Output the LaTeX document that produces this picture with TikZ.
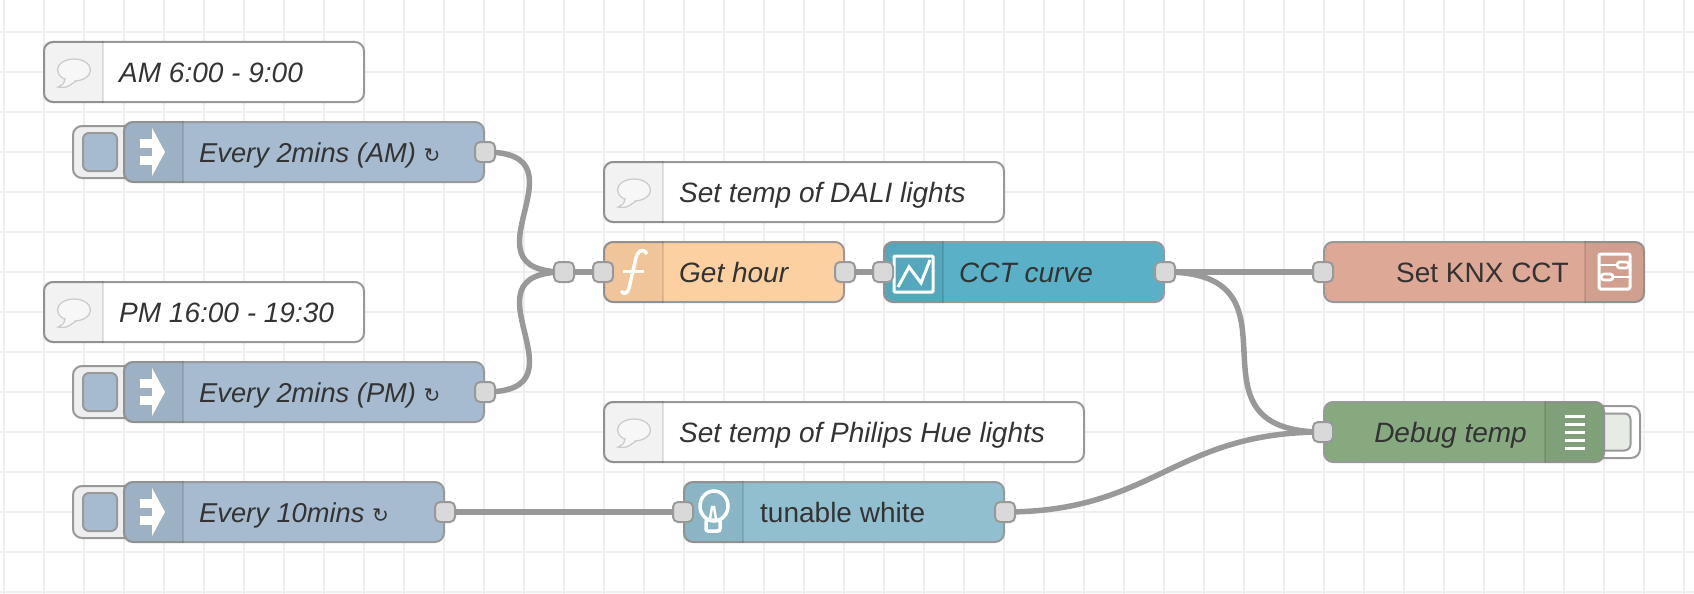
\documentclass[tikz,border=0pt]{standalone}
\usepackage{fontspec}
\setmainfont{Liberation Sans}
\newfontfamily\symfont{DejaVu Sans}
\usetikzlibrary{positioning, backgrounds}

\definecolor{wiregray}{HTML}{999999}
\definecolor{gridgray}{HTML}{EEEEEE}
\definecolor{portgray}{HTML}{D9D9D9}
\definecolor{textgray}{HTML}{333333}
\definecolor{injectblue}{HTML}{A6BBCF}
\definecolor{funcorange}{HTML}{FDD0A2}
\definecolor{curveteal}{HTML}{5AB1C7}
\definecolor{knxsalmon}{HTML}{DDA896}
\definecolor{debuggreen}{HTML}{87A980}
\definecolor{huecyan}{HTML}{92BFD0}
\definecolor{debugpale}{HTML}{E6EBE4}

\newcommand{\looptick}{{\upshape\symfont\fontsize{20}{20}\selectfont ↻}}

\tikzset{
    box/.style={draw=wiregray, line width=2pt, rounded corners=9pt, inner sep=0pt, minimum height=60pt},
    pad/.style={box, rounded corners=6pt, minimum width=34pt, minimum height=38pt},
    port/.style={draw=wiregray, line width=2pt, rounded corners=5pt, inner sep=0pt, fill=portgray, minimum size=20pt},
    wire/.style={draw=wiregray, line width=5.5pt},
    lbl/.style={inner sep=0pt, text=textgray, font=\fontsize{28}{32}\selectfont, text height=24pt, text depth=4pt},
    nameit/.style={lbl, font=\fontsize{28}{32}\selectfont\itshape},
    tickit/.style={lbl, font=\fontsize{27.3}{32}\selectfont\itshape},
    panel/.style={fill=black, fill opacity=0.05},
    divider/.style={draw=black, draw opacity=0.1, line width=2pt},
    glyph/.style={draw=white, line width=3pt},
    bubble/.pic={
        \draw[draw=black!20, fill=black!3, line width=1.3pt] (1,-2) ellipse [x radius=16.5pt, y radius=11pt];
        \draw[draw=black!20, fill=black!3, line width=1.3pt] (-8,6) .. controls (-9,12) .. (-15,15) .. controls (-7,16) .. (3,9);
    },
    tickarrow/.pic={
        \fill[white] (-12,-13) rectangle (0,-4);
        \fill[white] (-12,4) rectangle (0,13);
        \fill[white] (0,-24) -- (13,0) -- (0,24) -- cycle;
    },
    funcglyph/.pic={
        \draw[glyph, line width=3.5pt] (13,-18) .. controls (9,-25) and (3,-22) .. (1,-10) -- (-5,16) .. controls (-7,23) and (-11,22) .. (-13,19);
        \draw[glyph] (-11,-1) -- (10,-1);
    },
    curveglyph/.pic={
        \draw[glyph, rounded corners=1pt] (-19,-16) rectangle (20,20);
        \draw[glyph] (-15,15) -- (-4,-5) -- (8,11) -- (17,-12);
    },
    knxglyph/.pic={
        \draw[glyph, rounded corners=2pt] (-16,-18) rectangle (15,17);
        \draw[glyph, line width=2.8pt] (-16,-7) -- (2,-7);
        \draw[glyph, line width=2.8pt, rounded corners=3pt] (2,-10) rectangle (14,-4);
        \draw[glyph, line width=2.8pt, rounded corners=3pt] (-14,2) rectangle (-2,8);
        \draw[glyph, line width=2.8pt] (-2,5) -- (15,5);
    },
    debugglyph/.pic={
        \foreach \yy in {-16,-8,0,8,16} {
            \draw[glyph] (-10,\yy) -- (10,\yy);
        }
    },
    bulbglyph/.pic={
        \draw[glyph, line width=3.5pt] (1,-6) ellipse [x radius=14pt, y radius=15pt];
        \draw[glyph, line width=2.5pt] (-3,7) -- (-1,-5) -- (1,-5) -- (3,7);
        \draw[glyph, line width=3.5pt, rounded corners=2pt] (-7,8) rectangle (7,19);
    },
}

\begin{document}
\begin{tikzpicture}[x=1pt, y=-1pt]
    \useasboundingbox (0,0) rectangle (1694,594);

    % Comments
    \node[box, fill=white, minimum width=320pt] (cmtam) at (204,72) {};
    \node[box, fill=white, minimum width=320pt] (cmtpm) at (204,312) {};
    \node[box, fill=white, minimum width=400pt] (cmtdali) at (804,192) {};
    \node[box, fill=white, minimum width=480pt] (cmthue) at (844,432) {};

    % Inject buttons (behind the nodes)
    \node[box, fill=gridgray, minimum width=60pt, minimum height=52pt] (btnam) at (103,152) {};
    \node[box, fill=gridgray, minimum width=60pt, minimum height=52pt] (btnpm) at (103,392) {};
    \node[box, fill=gridgray, minimum width=60pt, minimum height=52pt] (btnten) at (103,512) {};
    \node[pad, fill=injectblue] (padam) at (100,152) {};
    \node[pad, fill=injectblue] (padpm) at (100,392) {};
    \node[pad, fill=injectblue] (padten) at (100,512) {};

    % Debug button (behind the node)
    \node[box, fill=white, minimum width=70pt, minimum height=52pt] (btndebug) at (1605,432) {};
    \node[pad, fill=debugpale, minimum width=51pt, minimum height=37pt] (paddebug) at (1605,432) {};

    % Flow nodes
    \node[box, fill=injectblue, minimum width=360pt] (injam) at (304,152) {};
    \node[box, fill=injectblue, minimum width=360pt] (injpm) at (304,392) {};
    \node[box, fill=injectblue, minimum width=320pt] (injten) at (284,512) {};
    \node[box, fill=funcorange, minimum width=240pt] (hour) at (724,272) {};
    \node[box, fill=curveteal, minimum width=280pt] (curve) at (1024,272) {};
    \node[box, fill=huecyan, minimum width=320pt] (white) at (844,512) {};
    \node[box, fill=knxsalmon, minimum width=320pt] (knx) at (1484,272) {};
    \node[box, fill=debuggreen, minimum width=280pt] (debug) at (1464,432) {};

    % Icon panels, left and right
    \foreach \nd in {cmtam, cmtpm, cmtdali, cmthue, injam, injpm, injten, hour, curve, white} {
        \fill[panel] ([xshift=60pt]\nd.north west) [rounded corners=8pt] -- (\nd.north west) -- (\nd.south west) [sharp corners] -- ([xshift=60pt]\nd.south west) -- cycle;
        \draw[divider] ([xshift=60pt]\nd.north west) -- ([xshift=60pt]\nd.south west);
    }
    \foreach \nd in {knx, debug} {
        \fill[panel] ([xshift=-60pt]\nd.north east) [rounded corners=8pt] -- (\nd.north east) -- (\nd.south east) [sharp corners] -- ([xshift=-60pt]\nd.south east) -- cycle;
        \draw[divider] ([xshift=-60pt]\nd.north east) -- ([xshift=-60pt]\nd.south east);
    }

    % Icons
    \foreach \nd in {cmtam, cmtpm, cmtdali, cmthue} {
        \pic at ([xshift=30pt]\nd.west) {bubble};
    }
    \foreach \nd in {injam, injpm, injten} {
        \pic at ([xshift=29pt]\nd.west) {tickarrow};
    }
    \pic at ([xshift=31pt]hour.west) {funcglyph};
    \pic at ([xshift=30pt]curve.west) {curveglyph};
    \pic at ([xshift=30pt]white.west) {bulbglyph};
    \pic at ([xshift=-30pt]knx.east) {knxglyph};
    \pic at ([xshift=-30pt]debug.east) {debugglyph};

    % Labels
    \node[nameit, right=76pt of cmtam.west] (lblam) {AM 6:00 - 9:00};
    \node[nameit, right=76pt of cmtpm.west] (lblpm) {PM 16:00 - 19:30};
    \node[nameit, right=76pt of cmtdali.west] (lbldali) {Set temp of DALI lights};
    \node[nameit, right=76pt of cmthue.west] (lblhue) {Set temp of Philips Hue lights};
    \node[tickit, right=76pt of injam.west] (lblinjam) {Every 2mins (AM) \looptick};
    \node[tickit, right=76pt of injpm.west] (lblinjpm) {Every 2mins (PM) \looptick};
    \node[tickit, right=76pt of injten.west] (lblinjten) {Every 10mins \looptick};
    \node[nameit, right=76pt of hour.west] (lblhour) {Get hour};
    \node[nameit, right=76pt of curve.west] (lblcurve) {CCT curve};
    \node[lbl, right=77pt of white.west] (lblwhite) {tunable white};
    \node[lbl, left=76pt of knx.east] (lblknx) {Set KNX CCT};
    \node[nameit, left=78pt of debug.east] (lbldebug) {Debug temp};

    % Ports
    \node[port] (amout) at (injam.east) {};
    \node[port] (pmout) at (injpm.east) {};
    \node[port] (tenout) at (injten.east) {};
    \node[port] (junc) at (564,272) {};
    \node[port] (hourin) at (hour.west) {};
    \node[port] (hourout) at (hour.east) {};
    \node[port] (curvein) at (curve.west) {};
    \node[port] (curveout) at (curve.east) {};
    \node[port] (whitein) at (white.west) {};
    \node[port] (whiteout) at (white.east) {};
    \node[port] (knxin) at (knx.west) {};
    \node[port] (debugin) at (debug.west) {};

    % Wires, then the canvas grid, all behind the nodes
    \begin{scope}[on background layer]
        \fill[white] (0,0) rectangle (1694,594);
        \foreach \gx in {0,...,42} {
            \draw[gridgray, line width=2pt] ({4+40*\gx},0) -- ({4+40*\gx},594);
        }
        \foreach \gy in {0,...,14} {
            \draw[gridgray, line width=2pt] (0,{32+40*\gy}) -- (1694,{32+40*\gy});
        }
        \draw[wire] (amout.center) .. controls +(108,0) and +(-108,0) .. (junc.center);
        \draw[wire] (pmout.center) .. controls +(108,0) and +(-108,0) .. (junc.center);
        \draw[wire] (junc) -- (hourin);
        \draw[wire] (hourout) -- (curvein);
        \draw[wire] (curveout) -- (knxin);
        \draw[wire] (curveout.center) .. controls +(150,0) and +(-150,0) .. (debugin.center);
        \draw[wire] (whiteout.center) .. controls +(150,0) and +(-150,0) .. (debugin.center);
        \draw[wire] (tenout) -- (whitein);
    \end{scope}
\end{tikzpicture}
\end{document}
